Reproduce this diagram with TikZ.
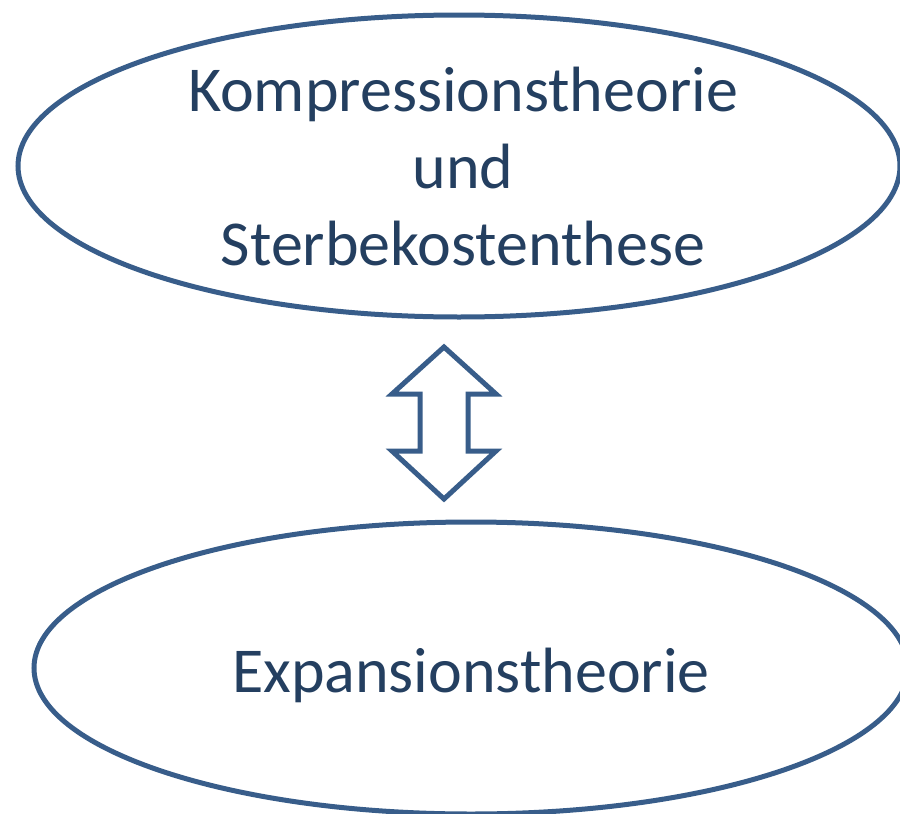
\documentclass[tikz,border=0pt]{standalone}
\usepackage{fontspec}
\setmainfont{Carlito}
\usetikzlibrary{shapes.geometric}
\definecolor{strokeblue}{HTML}{385D8A}
\definecolor{textblue}{HTML}{243F60}
\tikzset{
  oval/.style={ellipse, draw=strokeblue, line width=5pt, inner sep=0pt},
  bigtext/.style={text=textblue, font=\fontsize{64}{77}\selectfont, align=center, inner sep=0pt},
  blockarrow/.style={draw=strokeblue, line width=5pt, fill=white, line join=miter}
}
\begin{document}
\begin{tikzpicture}[x=1pt,y=-1pt]
\useasboundingbox (0,0) rectangle (900,814);
\clip (0,0) rectangle (900,814);
\node[oval, minimum width=882pt, minimum height=302pt] (top) at (459,166) {};
\node[bigtext, anchor=base] (toptext) at (463,265) {Kompressionstheorie\\und\\Sterbekostenthese};
\node[oval, minimum width=874pt, minimum height=292pt] (bottom) at (471,668) {};
\node[bigtext, anchor=base] (bottomtext) at (471,692) {Expansionstheorie};
\draw[blockarrow] (444,347) -- (496,394) -- (468,394) -- (468,451) -- (496,451)
  -- (444,499) -- (392,451) -- (420,451) -- (420,394) -- (392,394) -- cycle;
\end{tikzpicture}
\end{document}
